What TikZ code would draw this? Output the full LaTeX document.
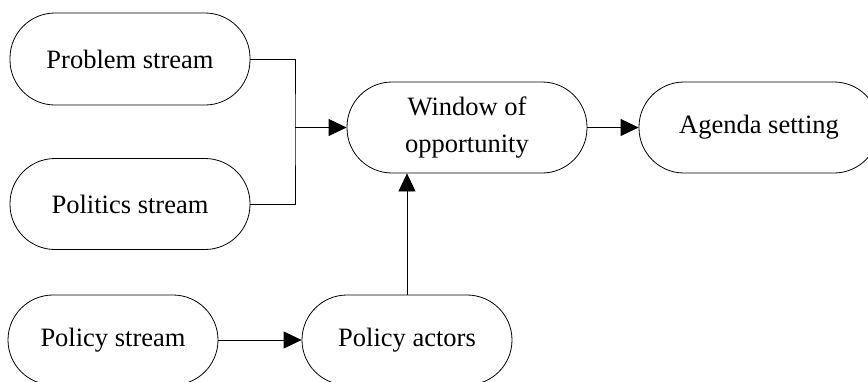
\documentclass[tikz,border=0pt]{standalone}
\usepackage{fontspec}
\setmainfont{Liberation Serif}
\usetikzlibrary{arrows.meta}
\begin{document}
\begin{tikzpicture}[x=1pt,y=-1pt,
  pill/.style={draw,line width=0.8pt,rounded corners=45pt,inner sep=0pt,align=center,
    font=\fontsize{26.5}{37}\selectfont},
  arr/.style={line width=0.8pt,-{Triangle[length=18pt,width=17pt]}},
  ln/.style={line width=0.8pt}]
\useasboundingbox (0,0) rectangle (868,381);
\node[pill,minimum width=240pt,minimum height=92pt] (prob) at (130,59) {Problem stream};
\node[pill,minimum width=240pt,minimum height=91pt] (pol) at (130,204) {Politics stream};
\node[pill,minimum width=210pt,minimum height=90pt] (pstr) at (113,340) {Policy stream};
\node[pill,minimum width=210pt,minimum height=90pt] (act) at (407,340) {Policy actors};
\node[pill,minimum width=240pt,minimum height=91pt] (win) at (467,127.5) {Window of\\opportunity};
\node[pill,minimum width=240pt,minimum height=91pt] (agenda) at (759,127.5) {Agenda setting};
\coordinate (j) at (295,127.5);
\draw[ln] (prob.east) -| (j) |- (pol.east);
\draw[arr] (j) -- (win.west);
\draw[arr] (win.east) -- (agenda.west);
\draw[arr] (pstr.east) -- (act.west);
\draw[arr] (act.north) -- (act.north |- win.south);
\end{tikzpicture}
\end{document}
